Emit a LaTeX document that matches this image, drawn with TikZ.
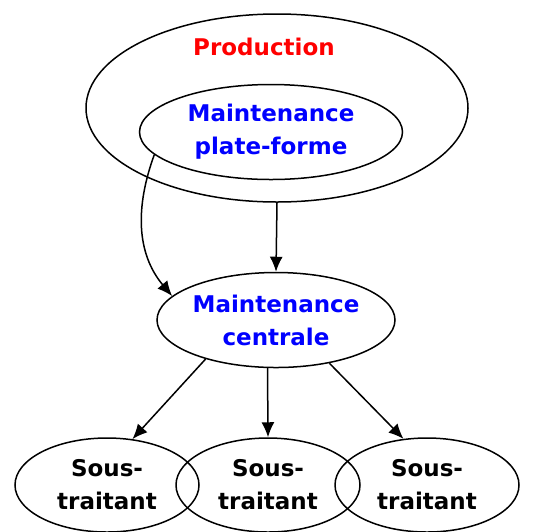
\documentclass[tikz,border=0pt]{standalone}
\usepackage{fontspec}
\setmainfont{DejaVu Sans}
\usepackage{tikz}
\usetikzlibrary{shapes.geometric}
\usetikzlibrary{arrows.meta}
\tikzset{oval/.style={draw,shape=ellipse,inner sep=0pt,align=center,font=\bfseries\fontsize{11.5}{16.5}\selectfont}}
\tikzset{flow/.style={-{Latex[length=7.5pt,width=6.5pt]}}}

\begin{document}
\begin{tikzpicture}[x=0.5pt, y=0.5pt, line width=0.75pt]
    \useasboundingbox (0, 0) rectangle (539, -531);

    \node [oval, minimum width=191pt, minimum height=94pt] (prod) at (277, -108) {};
    \node [font=\bfseries\fontsize{11.5}{16.5}\selectfont, text=red] (prodlabel) at (264, -47) {Production};
    \node [oval, text=blue, minimum width=131.5pt, minimum height=47.5pt] (mpf) at (271, -132) {Maintenance\\plate-forme};

    \node [oval, text=blue, minimum width=119pt, minimum height=47.5pt] (mc) at (276, -320) {Maintenance\\centrale};

    \node [oval, minimum width=92pt, minimum height=47pt] (st1) at (107, -485) {Sous-\\traitant};
    \node [oval, minimum width=92pt, minimum height=47pt] (st2) at (268, -485) {Sous-\\traitant};
    \node [oval, minimum width=92pt, minimum height=47pt] (st3) at (427, -485) {Sous-\\traitant};

    \draw [flow] (prod.south) to (mc.north);
    \draw [flow] (mpf.191) to [out=250, in=130] (mc.167);

    \draw [flow] (mc.209) to (st1.61);
    \draw [flow] (mc.260) to (st2.north);
    \draw [flow] (mc.321) to (st3.117);
\end{tikzpicture}
\end{document}
